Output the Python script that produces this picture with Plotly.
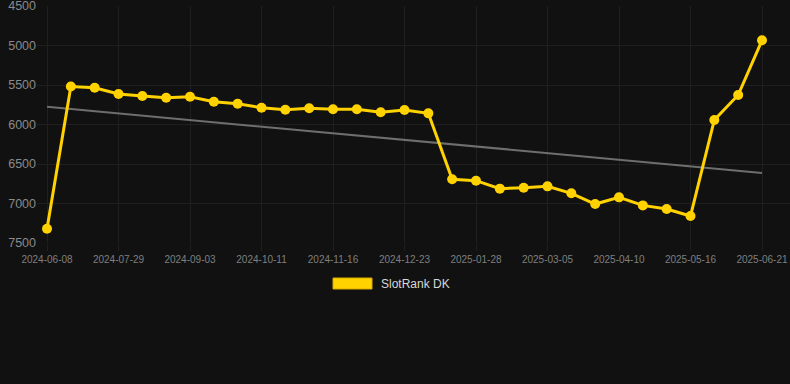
import plotly.graph_objects as go

dates = [
    "2024-06-08", "2024-06-25", "2024-07-12", "2024-07-29", "2024-08-10", "2024-08-22",
    "2024-09-03", "2024-09-16", "2024-09-28", "2024-10-11", "2024-10-23", "2024-11-04",
    "2024-11-16", "2024-11-28", "2024-12-11", "2024-12-23", "2025-01-04", "2025-01-16",
    "2025-01-28", "2025-02-09", "2025-02-21", "2025-03-05", "2025-03-17", "2025-03-29",
    "2025-04-10", "2025-04-22", "2025-05-04", "2025-05-16", "2025-05-28", "2025-06-09",
    "2025-06-21",
]
rank = [
    7320, 5520, 5534, 5614, 5640, 5661, 5648, 5711, 5737, 5788, 5813, 5795,
    5808, 5808, 5846, 5817, 5859, 6694, 6711, 6812, 6800, 6783, 6871, 7007,
    6922, 7024, 7070, 7159, 5943, 5627, 4934,
]
trend_x = ["2024-06-08", "2025-06-21"]
trend_y = [5776, 6613]
tick_labels = dates[::3]
y_ticks = [4500, 5000, 5500, 6000, 6500, 7000, 7500]
series_name = "SlotRank DK"

BG = "#111111"
GRID = "#1f1f1f"
YELLOW = "#FFD200"
FONT = "Liberation Sans, Arial, sans-serif"

fig = go.Figure()
fig.add_trace(go.Scatter(
    x=trend_x, y=trend_y, mode="lines",
    line=dict(color="#6e6e6e", width=2), showlegend=False, hoverinfo="skip",
))
fig.add_trace(go.Scatter(
    x=dates, y=rank, mode="lines+markers", name=series_name,
    line=dict(color=YELLOW, width=3),
    marker=dict(color=YELLOW, size=10),
    showlegend=False,
))

n = len(dates)
fig.update_layout(
    width=790, height=384,
    paper_bgcolor=BG, plot_bgcolor=BG,
    margin=dict(l=37, r=0, t=6, b=141, autoexpand=False),
    font=dict(family=FONT, color="#8a8a8a"),
    xaxis=dict(
        type="category", categoryorder="array", categoryarray=dates,
        range=[-0.42, n - 1 + 1.175],
        tickmode="array", tickvals=tick_labels, ticktext=tick_labels,
        showgrid=True, gridcolor=GRID, gridwidth=1,
        ticks="outside", ticklen=7, tickcolor=GRID,
        tickfont=dict(size=10, color="#7f7f7f"),
        zeroline=False, showline=False, automargin=False,
        ticklabeloverflow="allow",
    ),
    yaxis=dict(
        range=[7500, 4500], autorange=False,
        tickmode="array", tickvals=y_ticks, ticktext=[str(v) for v in y_ticks],
        showgrid=True, gridcolor=GRID, gridwidth=1,
        tickfont=dict(size=12.5, color="#8a8a8a"),
        zeroline=False, showline=False, ticks="", automargin=False,
        ticklabeloverflow="allow",
    ),
    shapes=[dict(
        type="rect", xref="paper", yref="paper",
        x0=(333 - 37) / 753, x1=(372 - 37) / 753,
        y0=(243 - 289) / 237, y1=(243 - 278) / 237,
        fillcolor=YELLOW, line=dict(color="#d9a800", width=1),
    )],
    annotations=[dict(
        text=series_name, xref="paper", yref="paper",
        x=(379 - 37) / 753, y=(243 - 284) / 237,
        xanchor="left", yanchor="middle", showarrow=False,
        font=dict(size=12, color="#d8d8d8", family=FONT),
    )],
)

fig.write_html(
    "out.html",
    config={"displayModeBar": False},
    post_script="document.body.style.margin='0';document.body.style.background='#111111';document.body.style.overflow='hidden';",
)
